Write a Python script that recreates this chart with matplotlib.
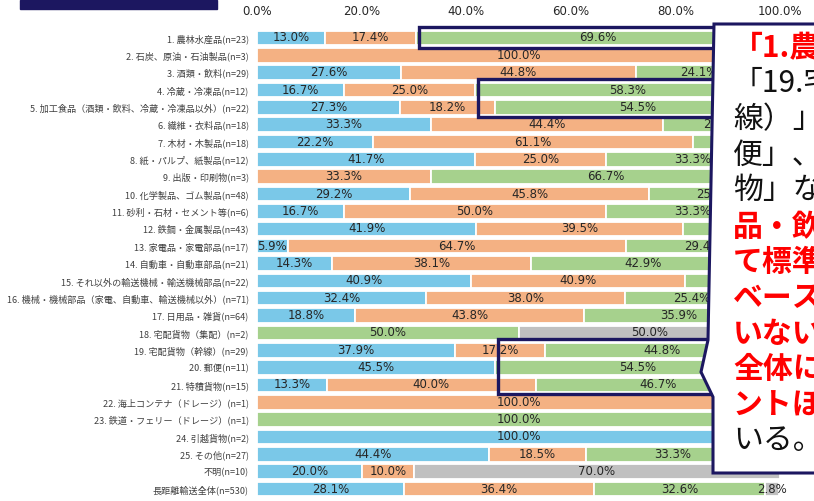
import matplotlib
matplotlib.use("Agg")
import matplotlib.pyplot as plt
import numpy as np
from matplotlib.patches import Polygon, Rectangle

plt.rcParams['font.family'] = ['Noto Sans CJK JP', 'DejaVu Sans']

categories = [
    "1. 農林水産品(n=23)",
    "2. 石炭、原油・石油製品(n=3)",
    "3. 酒類・飲料(n=29)",
    "4. 冷蔵・冷凍品(n=12)",
    "5. 加工食品（酒類・飲料、冷蔵・冷凍品以外）(n=22)",
    "6. 繊維・衣料品(n=18)",
    "7. 木材・木製品(n=18)",
    "8. 紙・パルプ、紙製品(n=12)",
    "9. 出版・印刷物(n=3)",
    "10. 化学製品、ゴム製品(n=48)",
    "11. 砂利・石材・セメント等(n=6)",
    "12. 鉄鋼・金属製品(n=43)",
    "13. 家電品・家電部品(n=17)",
    "14. 自動車・自動車部品(n=21)",
    "15. それ以外の輸送機械・輸送機械部品(n=22)",
    "16. 機械・機械部品（家電、自動車、輸送機械以外）(n=71)",
    "17. 日用品・雑貨(n=64)",
    "18. 宅配貨物（集配）(n=2)",
    "19. 宅配貨物（幹線）(n=29)",
    "20. 郵便(n=11)",
    "21. 特積貨物(n=15)",
    "22. 海上コンテナ（ドレージ）(n=1)",
    "23. 鉄道・フェリー（ドレージ）(n=1)",
    "24. 引越貨物(n=2)",
    "25. その他(n=27)",
    "不明(n=10)",
    "長距離輸送全体(n=530)",
]
blue = [13.0, 0, 27.6, 16.7, 27.3, 33.3, 22.2, 41.7, 0, 29.2, 16.7, 41.9, 5.9, 14.3,
        40.9, 32.4, 18.8, 0, 37.9, 45.5, 13.3, 0, 0, 100.0, 44.4, 20.0, 28.1]
orange = [17.4, 100.0, 44.8, 25.0, 18.2, 44.4, 61.1, 25.0, 33.3, 45.8, 50.0, 39.5, 64.7, 38.1,
          40.9, 38.0, 43.8, 0, 17.2, 0, 40.0, 100.0, 0, 0, 18.5, 10.0, 36.4]
green = [69.6, 0, 24.1, 58.3, 54.5, 22.2, 16.7, 33.3, 66.7, 25.0, 33.3, 18.6, 29.4, 42.9,
         18.2, 25.4, 35.9, 50.0, 44.8, 54.5, 46.7, 0, 100.0, 0, 33.3, 0, 32.6]
gray = [0, 0, 3.4, 0, 0, 0, 0, 0, 0, 0, 0, 0, 0, 4.8,
        0, 4.2, 1.6, 50.0, 0, 0, 0, 0, 0, 0, 3.7, 70.0, 2.8]
ticks = [0, 20, 40, 60, 80, 100]
highlight_groups = [[0], [3, 4], [18, 19, 20]]

callout_lines = [
    ("「1.農林水産品」「4.冷", "red"),
    ("「19.宅配貨物（幹", "black"),
    ("線）」「20.郵", "black"),
    ("便」、「21.特積貨", "black"),
    ("物」などは、食", "black"),
    ("品・飲料等におい", "red"),
    ("て標準的な運賃が", "red"),
    ("ベースとなって", "red"),
    ("いない事業者が", "red"),
    ("全体に比べ数ポイ", "red"),
    ("ントほど高くなって", "red"),
    ("いる。", "black"),
]

colors = ["#7AC8E8", "#F4B183", "#A6D18D", "#C0C0C0"]
navy = "#1C1760"

fig = plt.figure(figsize=(8.14, 5.01), dpi=100)
ax = fig.add_axes([257 / 814, 1 - 497.7 / 501, 523 / 814, 468.4 / 501])

y = np.arange(len(categories))
left = np.zeros(len(categories))
series = [blue, orange, green, gray]
starts = {}
for i, (vals, col) in enumerate(zip(series, colors)):
    vals = np.array(vals, dtype=float)
    starts[i] = left.copy()
    bars = ax.barh(y, vals, left=left, height=0.84, color=col,
                   edgecolor="white", linewidth=1.3)
    ax.bar_label(bars, labels=[f"{v:.1f}%" if v > 0 else "" for v in vals],
                 label_type="center", fontsize=8.5, color="#262626",
                 family="DejaVu Sans")
    left += vals

ax.set_xlim(0, 100)
ax.set_ylim(len(categories) - 0.5, -0.5)
ax.xaxis.tick_top()
ax.set_xticks(ticks)
ax.set_xticklabels([f"{t:.1f}%" for t in ticks], fontsize=8.5, family="DejaVu Sans",
                   color="#262626")
ax.set_yticks(y)
ax.set_yticklabels(categories, fontsize=6.55, color="#404040")
ax.tick_params(axis="both", length=0)
ax.tick_params(axis="y", pad=6)
ax.tick_params(axis="x", pad=8)
for s in ax.spines.values():
    s.set_visible(False)

# highlight frames around the green segments
green_start = starts[2]
for rows in highlight_groups:
    x0 = min(green_start[r] for r in rows) + 0.6
    top = min(rows) - 0.62
    bottom = max(rows) + 0.55
    ax.add_patch(Rectangle((x0, top), 92 - x0, bottom - top, fill=False,
                           edgecolor=navy, linewidth=2.4, clip_on=False, zorder=4))

# overlay in pixel coordinates for the callout
ov = fig.add_axes([0, 0, 1, 1], zorder=5)
ov.set_xlim(0, 814)
ov.set_ylim(501, 0)
ov.axis("off")
ov.patch.set_alpha(0)
ov.add_patch(Rectangle((20, 0), 197, 9, facecolor=navy, edgecolor=navy))
ov.add_patch(Polygon([(714, 24), (830, 24), (830, 473), (713, 473), (713, 397),
                      (701, 372), (708, 340)], closed=True, facecolor="white",
                     edgecolor=navy, linewidth=2.2))
for k, (txt, c) in enumerate(callout_lines):
    red = c == "red"
    ov.text(733, 48 + k * 35.7, txt, fontsize=21.5, ha="left", va="center",
            color="#FF0000" if red else "#111111",
            fontweight="bold" if red else "normal", clip_on=True)

fig.savefig("out.png", dpi=100)
